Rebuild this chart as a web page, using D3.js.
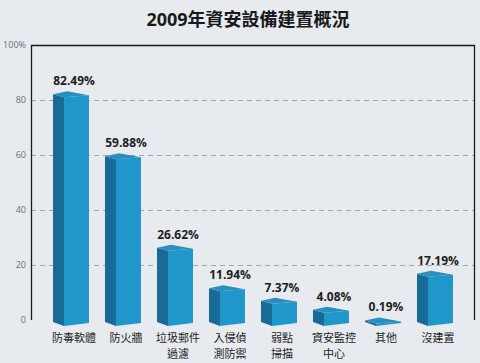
<!DOCTYPE html>
<html>
<head>
<meta charset="utf-8">
<script src="https://cdn.jsdelivr.net/npm/d3@7"></script>
<style>
  body { margin: 0; background: #e7ebef; }
  svg { display: block; font-family: "Open Sans", "Noto Sans CJK TC", sans-serif; }
</style>
</head>
<body>
<script>
var width = 480,
    height = 363

// data
var categories = ["防毒軟體", "防火牆", "垃圾郵件過濾", "入侵偵測防禦", "弱點掃描", "資安監控中心", "其他", "沒建置"];
var labelLines = [["防毒軟體"], ["防火牆"], ["垃圾郵件", "過濾"], ["入侵偵", "測防禦"], ["弱點", "掃描"], ["資安監控", "中心"], ["其他"], ["沒建置"]];
var values = [82.49, 59.88, 26.62, 11.94, 7.37, 4.08, 0.19, 17.19];
var yTicks = [0, 20, 40, 60, 80, 100];

var plot = {left: 31, right: 474, top: 45, bottom: 320};

var svg = d3.select("body").append("svg")
    .attr("width", width)
    .attr("height", height);

svg.append("rect")
    .attr("width", width)
    .attr("height", height)
    .attr("fill", "#e7ebef");

var x = d3.scaleBand()
    .domain(categories)
    .range([48, 464]);

var y = d3.scaleLinear()
    .domain([0, 100])
    .range([plot.bottom, plot.top]);

// title
svg.append("text")
    .attr("x", 248)
    .attr("y", 26)
    .attr("text-anchor", "middle")
    .attr("font-size", 18)
    .attr("font-weight", "bold")
    .attr("fill", "#1a1a1a")
    .text("2009年資安設備建置概況");

// grid lines
svg.append("g")
    .selectAll("line")
    .data(yTicks.filter(function (d) { return d > 0 && d < 100; }))
    .enter().append("line")
      .attr("x1", plot.left)
      .attr("x2", plot.right)
      .attr("y1", function (d) { return y(d) + 0.5; })
      .attr("y2", function (d) { return y(d) + 0.5; })
      .attr("stroke", "#a3a7ac")
      .attr("stroke-dasharray", "5,4");

// tick labels
svg.append("g")
    .selectAll("text")
    .data(yTicks)
    .enter().append("text")
      .attr("x", 26)
      .attr("y", function (d) { return y(d) + 3; })
      .attr("text-anchor", "end")
      .attr("font-size", 9)
      .attr("fill", "#6a6e73")
      .text(function (d) { return d === 100 ? "100%" : d; });

// frame
svg.append("path")
    .attr("d", "M" + (plot.left + 0.5) + "," + plot.bottom + "V" + (plot.top + 0.5) + "H" + (plot.right + 0.5) + "V" + plot.bottom)
    .attr("fill", "none")
    .attr("stroke", "#1b1b1b")
    .attr("stroke-width", 1.3);

// 3D bars
var bars = svg.append("g")
    .selectAll("g")
    .data(values)
    .enter().append("g");

function x0(d, i) { return x(categories[i]) + x.bandwidth() / 2 - 21; }
var base = plot.bottom;

bars.append("polygon")  // side face
    .attr("fill", "#176b96")
    .attr("points", function (d, i) {
      var a = x0(d, i), t = y(d);
      return [[a, t + 1], [a + 11, t + 4], [a + 11, base + 6], [a, base + 2]].join(" ");
    });

bars.append("polygon")  // front face
    .attr("fill", "#1f97cb")
    .attr("points", function (d, i) {
      var a = x0(d, i), t = y(d);
      return [[a + 11, t + 4], [a + 36, t + 2], [a + 36, base + 3], [a + 11, base + 6]].join(" ");
    });

bars.append("polygon")  // top face
    .attr("fill", "#2a8fbe")
    .attr("points", function (d, i) {
      var a = x0(d, i), t = y(d);
      return [[a, t + 1], [a + 14, t - 2], [a + 36, t + 2], [a + 11, t + 4]].join(" ");
    });

// value labels
svg.append("g")
    .selectAll("text")
    .data(values)
    .enter().append("text")
      .attr("x", function (d, i) { return x(categories[i]) + x.bandwidth() / 2; })
      .attr("y", function (d) { return y(d) - 8; })
      .attr("text-anchor", "middle")
      .attr("font-size", 12)
      .attr("font-weight", "bold")
      .attr("fill", "#1e1e1e")
      .text(function (d) { return d.toFixed(2) + "%"; });

// category labels, one text per line
var catData = [];
labelLines.forEach(function (lines, i) {
  lines.forEach(function (s, j) { catData.push({cat: categories[i], line: j, text: s}); });
});

svg.append("g")
    .selectAll("text")
    .data(catData)
    .enter().append("text")
      .attr("x", function (d) { return x(d.cat) + x.bandwidth() / 2; })
      .attr("y", function (d) { return 342 + d.line * 16; })
      .attr("text-anchor", "middle")
      .attr("font-size", 11)
      .attr("fill", "#1e1e1e")
      .text(function (d) { return d.text; });
</script>
</body>
</html>
